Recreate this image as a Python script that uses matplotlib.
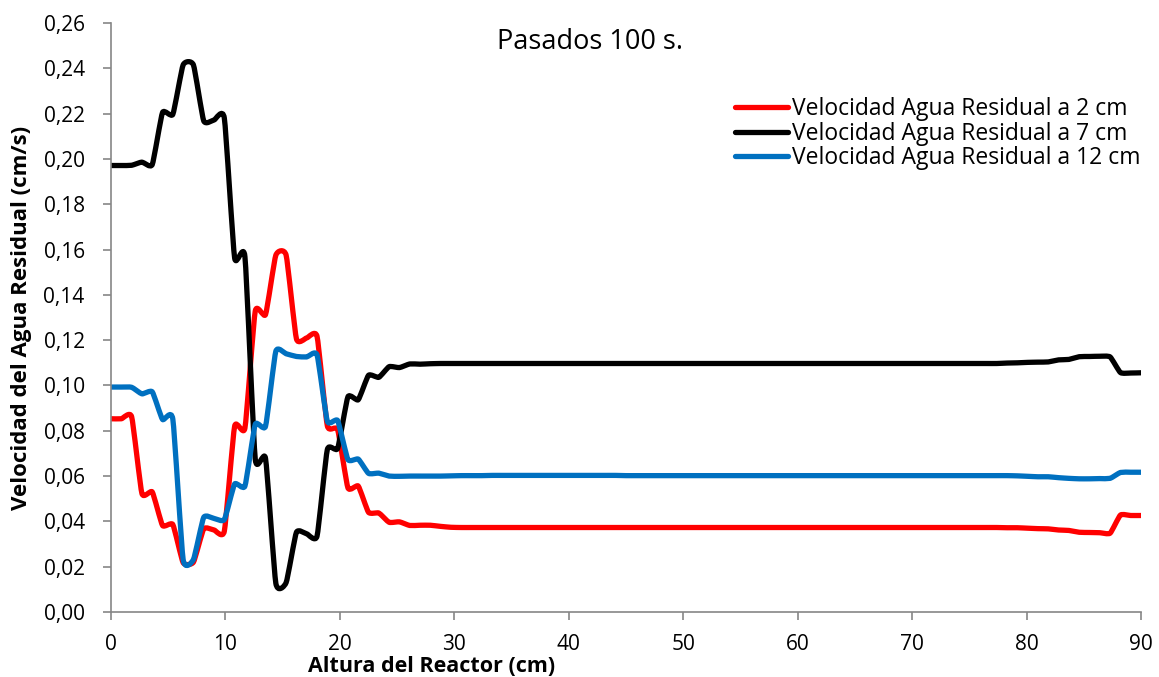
import numpy as np
import matplotlib
matplotlib.use("Agg")
import matplotlib.pyplot as plt
from matplotlib.path import Path
from matplotlib.patches import PathPatch
from matplotlib.lines import Line2D
from matplotlib.ticker import FuncFormatter, MultipleLocator

plt.rcParams['font.family'] = ['Open Sans', 'DejaVu Sans']

# Altura del reactor (cm): 101 nodos cada 0,9 cm
altura = np.linspace(0, 90, 101)

vel_2cm = [
    0.0853, 0.0853, 0.0862, 0.0523, 0.0530, 0.0382, 0.0386, 0.0218, 0.0220, 0.0367,
    0.0362, 0.0357, 0.0820, 0.0812, 0.1328, 0.1313, 0.1575, 0.1575, 0.1206, 0.1210,
    0.1217, 0.0822, 0.0805, 0.0548, 0.0556, 0.0440, 0.0437, 0.0396, 0.0398, 0.0382,
    0.0383, 0.0383, 0.0378, 0.0374, 0.0373, 0.0373, 0.0373, 0.0373, 0.0373, 0.0373,
    0.0373, 0.0373, 0.0373, 0.0373, 0.0373, 0.0373, 0.0373, 0.0373, 0.0373, 0.0373,
    0.0373, 0.0373, 0.0373, 0.0373, 0.0373, 0.0373, 0.0373, 0.0373, 0.0373, 0.0373,
    0.0373, 0.0373, 0.0373, 0.0373, 0.0373, 0.0373, 0.0373, 0.0373, 0.0373, 0.0373,
    0.0373, 0.0373, 0.0373, 0.0373, 0.0373, 0.0373, 0.0373, 0.0373, 0.0373, 0.0373,
    0.0373, 0.0373, 0.0373, 0.0373, 0.0373, 0.0373, 0.0373, 0.0372, 0.0372, 0.0370,
    0.0368, 0.0367, 0.0362, 0.0360, 0.0352, 0.0351, 0.0350, 0.0348, 0.0428, 0.0426,
    0.0426,
]

vel_7cm = [
    0.1971, 0.1971, 0.1972, 0.1986, 0.1975, 0.2205, 0.2197, 0.2415, 0.2415, 0.2168,
    0.2172, 0.2180, 0.1563, 0.1568, 0.0676, 0.0678, 0.0127, 0.0130, 0.0352, 0.0345,
    0.0335, 0.0717, 0.0722, 0.0950, 0.0937, 0.1045, 0.1036, 0.1083, 0.1079, 0.1095,
    0.1094, 0.1096, 0.1097, 0.1097, 0.1097, 0.1097, 0.1097, 0.1097, 0.1097, 0.1097,
    0.1097, 0.1097, 0.1097, 0.1097, 0.1097, 0.1097, 0.1097, 0.1097, 0.1097, 0.1097,
    0.1097, 0.1097, 0.1097, 0.1097, 0.1097, 0.1097, 0.1097, 0.1097, 0.1097, 0.1097,
    0.1097, 0.1097, 0.1097, 0.1097, 0.1097, 0.1097, 0.1097, 0.1097, 0.1097, 0.1097,
    0.1097, 0.1097, 0.1097, 0.1097, 0.1097, 0.1097, 0.1097, 0.1097, 0.1097, 0.1097,
    0.1097, 0.1097, 0.1097, 0.1097, 0.1097, 0.1097, 0.1097, 0.1099, 0.1100, 0.1102,
    0.1103, 0.1104, 0.1113, 0.1115, 0.1127, 0.1128, 0.1129, 0.1126, 0.1057, 0.1055,
    0.1056,
]

vel_12cm = [
    0.0993, 0.0993, 0.0992, 0.0963, 0.0972, 0.0850, 0.0851, 0.0232, 0.0232, 0.0418,
    0.0413, 0.0408, 0.0565, 0.0556, 0.0828, 0.0820, 0.1151, 0.1140, 0.1128, 0.1126,
    0.1135, 0.0842, 0.0845, 0.0673, 0.0675, 0.0612, 0.0613, 0.0600, 0.0599, 0.0600,
    0.0600, 0.0600, 0.0600, 0.0601, 0.0602, 0.0602, 0.0602, 0.0603, 0.0603, 0.0603,
    0.0603, 0.0603, 0.0603, 0.0603, 0.0603, 0.0603, 0.0603, 0.0603, 0.0603, 0.0603,
    0.0602, 0.0602, 0.0602, 0.0602, 0.0602, 0.0602, 0.0602, 0.0602, 0.0602, 0.0602,
    0.0602, 0.0602, 0.0602, 0.0602, 0.0602, 0.0602, 0.0602, 0.0602, 0.0602, 0.0602,
    0.0602, 0.0602, 0.0602, 0.0602, 0.0602, 0.0602, 0.0602, 0.0602, 0.0602, 0.0602,
    0.0602, 0.0602, 0.0602, 0.0602, 0.0602, 0.0602, 0.0602, 0.0602, 0.0601, 0.0599,
    0.0597, 0.0597, 0.0593, 0.0590, 0.0588, 0.0588, 0.0589, 0.0590, 0.0616, 0.0617,
    0.0617,
]

series = [
    ("Velocidad Agua Residual a 2 cm", vel_2cm, "#FF0000"),
    ("Velocidad Agua Residual a 7 cm", vel_7cm, "#000000"),
    ("Velocidad Agua Residual a 12 cm", vel_12cm, "#0070C0"),
]


def smooth_path(x, y, k=1 / 12):
    # curva suavizada tipo Excel (Bezier cubica, tangentes Catmull-Rom atenuadas)
    pts = np.column_stack([x, y])
    n = len(pts)
    verts = [pts[0]]
    codes = [Path.MOVETO]
    for i in range(n - 1):
        p0 = pts[i - 1] if i > 0 else pts[i]
        p1 = pts[i]
        p2 = pts[i + 1]
        p3 = pts[i + 2] if i + 2 < n else pts[i + 1]
        verts += [p1 + (p2 - p0) * k, p2 - (p3 - p1) * k, p2]
        codes += [Path.CURVE4] * 3
    return Path(verts, codes)


fig = plt.figure(figsize=(11.59, 6.77), dpi=100)
ax = fig.add_axes([0.0958, 0.096, 0.8887, 0.870])

handles = []
for label, vals, color in series:
    patch = PathPatch(smooth_path(altura, np.array(vals)), fill=False,
                      edgecolor=color, linewidth=3.8, capstyle='round', joinstyle='round')
    ax.add_patch(patch)
    handles.append(Line2D([], [], color=color, linewidth=3.8, solid_capstyle='round', label=label))

ax.set_xlim(0, 90)
ax.set_ylim(0, 0.26)
ax.xaxis.set_major_locator(MultipleLocator(10))
ax.yaxis.set_major_locator(MultipleLocator(0.02))
ax.yaxis.set_major_formatter(FuncFormatter(lambda v, p: f"{v:.2f}".replace(".", ",")))

for side in ['top', 'right']:
    ax.spines[side].set_visible(False)
for side in ['left', 'bottom']:
    ax.spines[side].set_color('#868686')
    ax.spines[side].set_linewidth(1.2)
ax.tick_params(colors='#868686', labelcolor='black', labelsize=15, length=6, width=1.2, direction='out')
ax.tick_params(axis='x', pad=10)
ax.tick_params(axis='y', pad=13)

ax.text(0.465, 0.968, "Pasados 100 s.", transform=ax.transAxes, ha='center', va='center', fontsize=19.5)

ax.legend(handles=handles, loc='upper left', bbox_to_anchor=(0.606, 0.874), frameon=False,
          fontsize=16.5, handlelength=2.3, handletextpad=0.18, labelspacing=0.02, borderpad=0,
          borderaxespad=0)

fig.text(432 / 1159, 1 - 666 / 677, "Altura del Reactor (cm)", ha='center', va='center',
         fontsize=15.5, fontweight='bold')
fig.text(22 / 1159, 1 - 318 / 677, "Velocidad del Agua Residual (cm/s)", ha='center', va='center',
         rotation=90, fontsize=16, fontweight='bold')

fig.savefig("out.png", dpi=100)
